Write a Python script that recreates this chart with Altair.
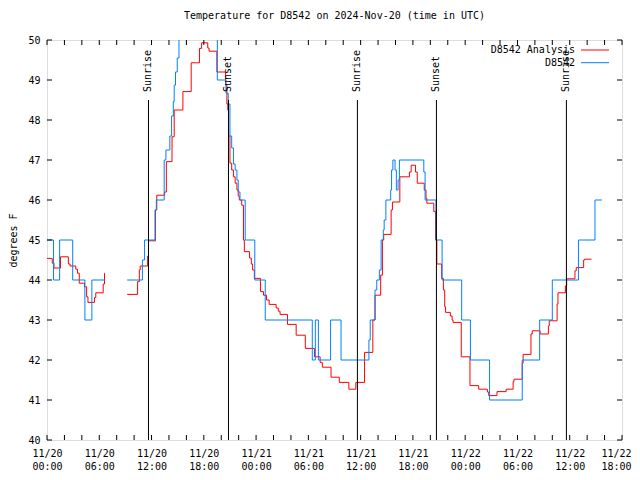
import altair as alt
import pandas as pd

FONT = "DejaVu Sans Mono"
W, H = 575, 400

# hours since 2024-11-20 00:00 UTC
series_names = ["D8542 Analysis", "D8542"]
series_colors = ["#ff0000", "#0080ff"]

# D8542 Analysis (red), two segments (gap in data)
an1_hours = [0.0, 0.6, 0.8, 1.55, 2.45, 2.65, 3.3, 3.5, 3.7, 4.3, 4.55, 4.7, 5.45, 5.6, 6.45, 6.6, 6.65]
an1_temps = [44.54, 44.42, 44.30, 44.58, 44.40, 44.35, 44.27, 44.17, 43.92, 43.83, 43.58, 43.44, 43.56, 43.68, 43.9, 44.17, 44.17]

an2_hours = [9.2, 10.4, 10.6, 10.7, 11.55, 11.65, 12.45, 12.6, 13.5, 13.7, 14.35, 14.6, 15.6, 16.55, 17.5, 17.75,
             18.45, 18.6, 19.5, 20.5, 20.65, 20.75, 20.85, 21.0, 21.2, 21.4, 21.6, 21.8, 21.95, 22.07, 22.35, 22.55,
             22.65, 23.25, 23.45, 23.6, 23.8, 24.5, 24.85, 25.2, 25.5, 26.3, 26.55, 26.75, 27.6, 28.6, 29.65, 30.7,
             31.35, 31.6, 32.6, 33.55, 34.65, 35.45, 36.45, 37.4, 37.65, 38.3, 38.5, 38.65, 39.5, 39.65, 40.5, 41.6,
             41.8, 42.3, 42.5, 43.3, 43.5, 43.6, 44.4, 44.6, 44.75, 45.3, 45.5, 45.65, 45.75, 46.3, 46.5, 46.6,
             47.55, 48.55, 49.55, 50.55, 50.7, 51.65, 52.7, 53.5, 53.6, 54.55, 54.65, 55.55, 55.7, 56.6, 57.55,
             57.65, 58.55, 58.65, 59.5, 59.65, 60.6, 60.75, 61.6, 61.7, 62.5]
an2_temps = [43.64, 43.96, 44.25, 44.35, 44.6, 44.98, 45.75, 46.12, 46.2, 46.96, 47.58, 48.25, 48.71, 49.43, 49.79, 49.93,
             49.8, 49.72, 49.2, 48.87, 48.4, 48.25, 47.6, 46.92, 46.75, 46.58, 46.42, 46.25, 46.1, 46.0, 45.87, 45.0,
             44.71, 44.55, 44.4, 44.25, 44.04, 43.71, 43.62, 43.5, 43.39, 43.3, 43.22, 43.14, 42.89, 42.62, 42.29, 42.08,
             41.94, 41.82, 41.57, 41.44, 41.27, 41.44, 42.19, 43.0, 43.62, 44.12, 45.0, 45.14, 45.75, 45.95, 46.58, 46.7,
             46.87, 46.7, 46.42, 46.25, 46.04, 45.92, 45.71, 45.0, 44.4, 44.04, 43.75, 43.33, 43.19, 43.1, 43.0, 42.94,
             42.08, 41.36, 41.27, 41.2, 41.11, 41.21, 41.27, 41.46, 41.52, 41.92, 42.14, 42.65, 42.73, 42.65, 42.85,
             42.98, 43.4, 43.68, 43.85, 44.03, 44.23, 44.31, 44.5, 44.52, 44.52]

# D8542 observations (blue), two segments
ob1_hours = [0.0, 0.75, 1.45, 2.95, 4.35, 5.15, 6.65]
ob1_temps = [45, 44, 45, 44, 43, 44, 44]

ob2_hours = [9.2, 10.95, 11.2, 12.4, 12.55, 13.45, 13.65, 14.1, 14.3, 14.5, 14.6, 14.75, 14.95, 15.15, 15.4, 19.4,
             19.55, 20.55, 20.8, 21.0, 21.2, 21.4, 21.6, 21.8, 21.95, 22.15, 22.75, 23.85, 25.05, 30.45, 30.8, 31.15,
             32.55, 33.75, 36.95, 37.1, 37.65, 37.85, 38.15, 38.35, 38.6, 38.7, 38.9, 39.45, 39.55, 39.7, 39.95, 40.1,
             40.3, 40.45, 43.25, 43.4, 44.65, 45.35, 47.6, 48.6, 50.8, 54.55, 56.55, 58.0, 61.0, 62.9, 63.7]
ob2_temps = [44, 44.5, 45, 45.75, 46, 47, 47.25, 47.6, 48.1, 48.46, 48.87, 49.2, 49.55, 50.2, 51, 50.5,
             49, 48.67, 48.4, 47.6, 47.3, 46.9, 46.75, 46.5, 46.2, 46, 45, 44, 43, 42, 43, 42,
             43, 42, 42.5, 43, 43.75, 44, 44.25, 45, 45.25, 45.5, 46, 46.25, 46.75, 47, 46.75, 46.25,
             46.5, 47, 46.7, 46, 45, 44, 43, 42, 41, 42, 43, 44, 45, 46, 46]

sun_hours = [11.65, 20.83, 35.63, 44.7, 59.62]
sun_labels = ["Sunrise", "Sunset", "Sunrise", "Sunset", "Sunrise"]

x_ticks = list(range(0, 67, 2))
x_labels_at = list(range(0, 67, 6))
y_ticks = list(range(40, 51))


def frame(seg, hs, ts):
    return pd.DataFrame({"seg": seg, "hour": hs, "temp": ts})


an_df = pd.concat([frame("a1", an1_hours, an1_temps), frame("a2", an2_hours, an2_temps)])
ob_df = pd.concat([frame("b1", ob1_hours, ob1_temps), frame("b2", ob2_hours, ob2_temps)])

xscale = alt.Scale(domain=[0, 66], nice=False, zero=False)
yscale = alt.Scale(domain=[40, 50], nice=False, zero=False)

x_axis = alt.Axis(
    values=x_labels_at,
    labelExpr="['11/' + (20 + floor(datum.value / 24)), (datum.value % 24 < 10 ? '0' : '') + (datum.value % 24) + ':00']",
    ticks=False, domain=False, grid=False, title=None,
    labelFont=FONT, labelFontSize=10, labelColor="black", labelPadding=8,
    labelLineHeight=13, labelAngle=0, labelFlush=False, labelOverlap=False,
    labelOffset={"condition": {"test": "datum.value == 66", "value": -6}, "value": 0},
)
y_axis = alt.Axis(
    values=y_ticks, ticks=False, domain=False, grid=False,
    labelFont=FONT, labelFontSize=10, labelColor="black", labelPadding=7,
    title="degrees F", titleFont=FONT, titleFontSize=10, titleFontWeight="normal",
    titleColor="black", titleAngle=270, titleX=-34, titleY=H / 2,
    titleAlign="center", titleBaseline="middle",
)

X = alt.X("hour:Q", scale=xscale, axis=x_axis)
Y = alt.Y("temp:Q", scale=yscale, axis=y_axis)

red = alt.Chart(an_df).mark_line(
    interpolate="step-after", strokeWidth=1, clip=True, color=series_colors[0]
).encode(x=X, y=Y, detail="seg:N")
blue = alt.Chart(ob_df).mark_line(
    interpolate="step-after", strokeWidth=1, clip=True, color=series_colors[1]
).encode(x=X, y=Y, detail="seg:N")

sun_df = pd.DataFrame({"hour": sun_hours, "label": sun_labels})
sun_rules = alt.Chart(sun_df).mark_rule(color="black", strokeWidth=1).encode(
    x=X, y=alt.value(60), y2=alt.value(H)
)
sun_text = alt.Chart(sun_df).mark_text(
    angle=270, align="left", baseline="middle", font=FONT, fontSize=10, color="black"
).encode(x=X, y=alt.value(52), text="label:N")

xt_df = pd.DataFrame({"hour": x_ticks})
yt_df = pd.DataFrame({"temp": y_ticks})
tick_b = alt.Chart(xt_df).mark_rule(color="black").encode(x=X, y=alt.value(H), y2=alt.value(H - 5))
tick_t = alt.Chart(xt_df).mark_rule(color="black").encode(x=X, y=alt.value(0), y2=alt.value(5))
tick_l = alt.Chart(yt_df).mark_rule(color="black").encode(y=Y, x=alt.value(0), x2=alt.value(5))
tick_r = alt.Chart(yt_df).mark_rule(color="black").encode(y=Y, x=alt.value(W), x2=alt.value(W - 5))

legend_layers = []
for i, (nm, col) in enumerate(zip(series_names, series_colors)):
    ly = 10 + i * 12.7
    ldf = pd.DataFrame({"name": [nm]})
    legend_layers.append(
        alt.Chart(ldf).mark_text(align="right", baseline="middle", font=FONT, fontSize=10, color="black")
        .encode(x=alt.value(528), y=alt.value(ly), text="name:N")
    )
    legend_layers.append(
        alt.Chart(ldf).mark_rule(color=col, strokeWidth=1)
        .encode(x=alt.value(534), x2=alt.value(562), y=alt.value(ly))
    )

chart = alt.layer(
    red, blue, sun_rules, sun_text, tick_b, tick_t, tick_l, tick_r, *legend_layers
).properties(
    width=W, height=H,
    title=alt.TitleParams(
        text="Temperature for D8542 on 2024-Nov-20 (time in UTC)",
        font=FONT, fontSize=10, fontWeight="normal", color="black",
        anchor="middle", offset=14,
    ),
    autosize=alt.AutoSizeParams(type="none"),
    padding={"left": 39, "top": 32, "right": 10, "bottom": 32},
).configure_view(stroke="black", strokeWidth=1).configure(background="white")

chart.save("out.html", embed_options={"renderer": "svg", "actions": False})
